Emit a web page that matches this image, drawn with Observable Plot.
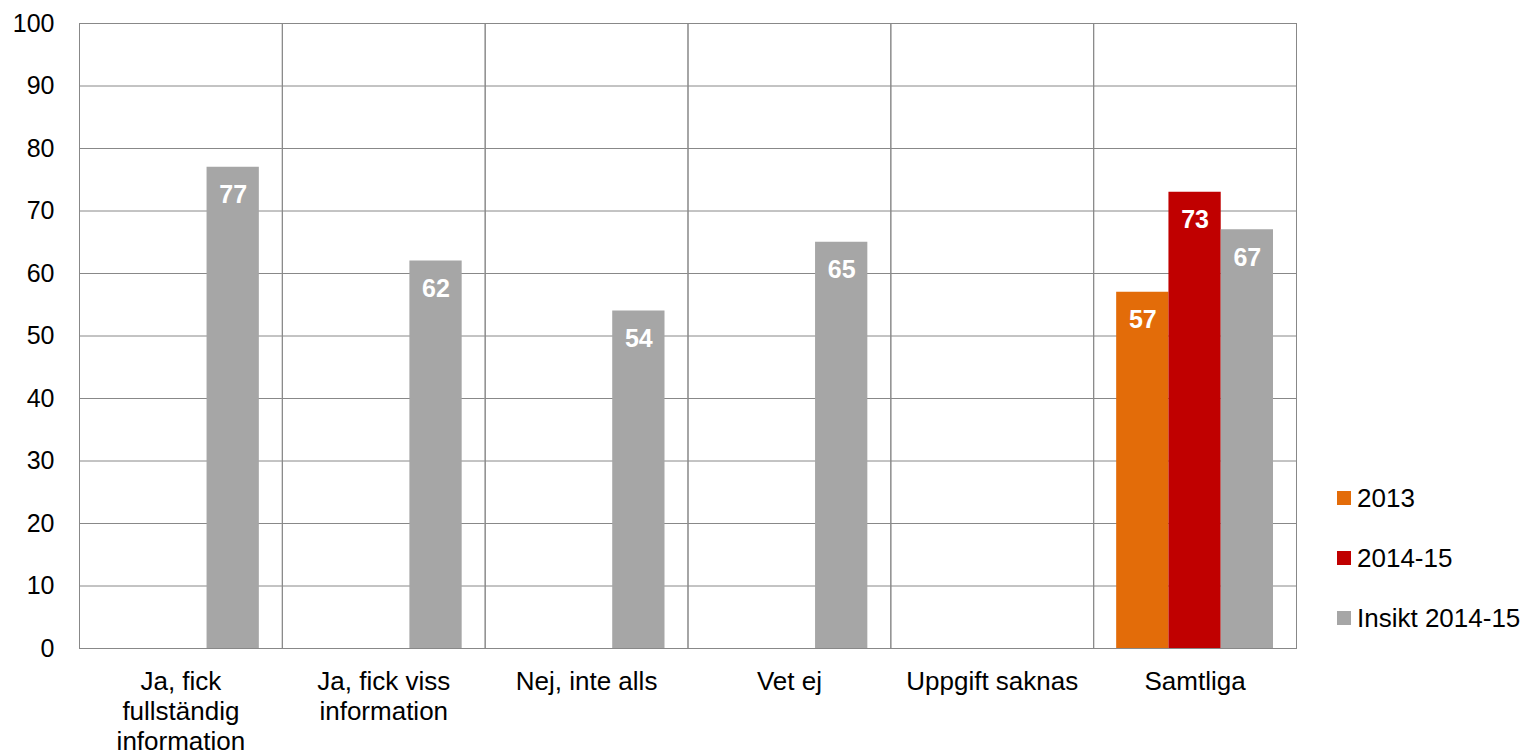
<!DOCTYPE html>
<html>
<head>
<meta charset="utf-8">
<script src="https://cdn.jsdelivr.net/npm/d3@7"></script>
<script src="https://cdn.jsdelivr.net/npm/@observablehq/plot@0.6"></script>
<style>
  html, body { margin: 0; padding: 0; background: #fff; }
  #wrap { position: relative; width: 1526px; height: 750px; font-family: Arial, "Liberation Sans", sans-serif; }
  #legend { position: absolute; left: 1337px; top: 468px; font-size: 26px; color: #000; }
  #legend .item { display: flex; align-items: center; height: 60px; white-space: nowrap; }
  #legend .sw { width: 14px; height: 14px; margin-right: 6px; }
</style>
</head>
<body>
<div id="wrap"><div id="chart"></div><div id="legend"></div></div>
<script>
const categories = ["Ja, fick fullständig information", "Ja, fick viss information", "Nej, inte alls", "Vet ej", "Uppgift saknas", "Samtliga"];
const categoryLabels = ["Ja, fick\nfullständig\ninformation", "Ja, fick viss\ninformation", "Nej, inte alls", "Vet ej", "Uppgift saknas", "Samtliga"];
const series = ["2013", "2014-15", "Insikt 2014-15"];
const values2013 = [null, null, null, null, null, 57];
const values2014_15 = [null, null, null, null, null, 73];
const valuesInsikt = [77, 62, 54, 65, null, 67];
const colors = ["#E36C09", "#C00000", "#A6A6A6"];
const yTicks = [0, 10, 20, 30, 40, 50, 60, 70, 80, 90, 100];

const seriesValues = [values2013, values2014_15, valuesInsikt];
const rows = [];
categories.forEach((c, i) => {
  series.forEach((s, j) => {
    const v = seriesValues[j][i];
    if (v != null) rows.push({category: c, series: s, value: v});
  });
});
const labelOf = new Map(categories.map((c, i) => [c, categoryLabels[i]]));

const W = 1526, H = 750, mL = 79, mR = 230, mT = 23, mB = 102;
const facetW = (W - mL - mR) / categories.length;

const chart = Plot.plot({
  width: W,
  height: H,
  marginLeft: mL,
  marginRight: mR,
  marginTop: mT,
  marginBottom: mB,
  style: {fontFamily: "Arial, 'Liberation Sans', sans-serif", fontSize: "25px", color: "#000", background: "#fff"},
  fx: {domain: categories, padding: 0, round: false, label: null, axis: null},
  x: {domain: series, paddingInner: 0, paddingOuter: 0.44, round: false, axis: null},
  y: {domain: [0, 100], label: null},
  color: {domain: series, range: colors},
  marks: [
    Plot.gridY(yTicks, {stroke: "#888", strokeOpacity: 1}),
    Plot.frame({stroke: "#888"}),
    Plot.ruleX(categories, {fx: d => d, y1: 0, y2: -1.15, stroke: "#888", dx: -facetW / 2}),
    Plot.ruleX(categories, {fx: d => d, y1: 0, y2: -1.15, stroke: "#888", dx: facetW / 2}),
    Plot.barY(rows, {fx: "category", x: "series", y: "value", fill: "series"}),
    Plot.text(rows, {fx: "category", x: "series", y: "value", text: d => String(d.value), fill: "#fff", fontWeight: "bold", fontSize: 25, dy: 28}),
    Plot.axisY(yTicks, {tickSize: 0, tickPadding: 25, fontSize: 25, tickFormat: d => String(d)}),
    Plot.axisFx({anchor: "bottom", tickSize: 0, tickPadding: 20, fontSize: 26, lineHeight: 1.15, tickFormat: d => labelOf.get(d), label: null})
  ]
});
document.getElementById("chart").appendChild(chart);

const legend = document.getElementById("legend");
series.forEach((s, j) => {
  const item = document.createElement("div");
  item.className = "item";
  const sw = document.createElement("div");
  sw.className = "sw";
  sw.style.background = colors[j];
  const t = document.createElement("span");
  t.textContent = s;
  item.appendChild(sw);
  item.appendChild(t);
  legend.appendChild(item);
});
</script>
</body>
</html>
